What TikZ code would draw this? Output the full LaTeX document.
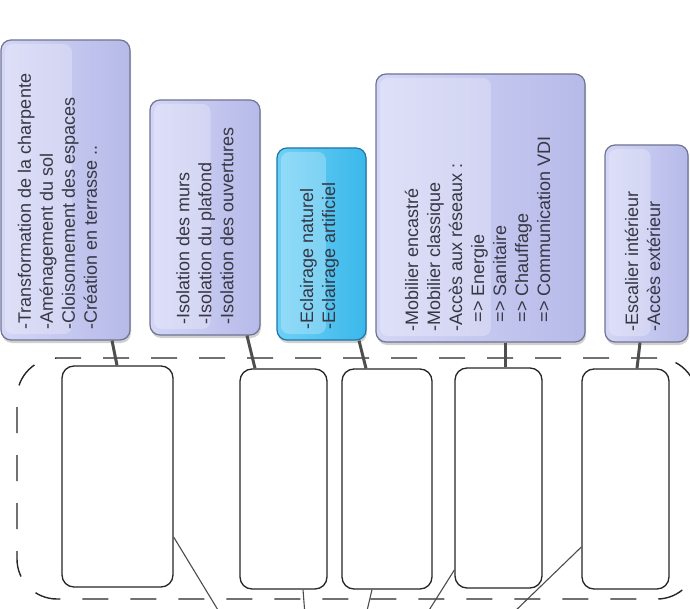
\documentclass[tikz,border=0pt]{standalone}
\usepackage{fontspec}
\setmainfont{Liberation Sans}
\usetikzlibrary{calc,shadows}
\definecolor{lavtop}{RGB}{212,214,246}
\definecolor{lavbot}{RGB}{182,186,232}
\definecolor{lavborder}{RGB}{112,116,146}
\definecolor{cyantop}{RGB}{110,208,246}
\definecolor{cyanbot}{RGB}{58,184,234}
\definecolor{cyanborder}{RGB}{30,118,168}
\definecolor{txtcol}{RGB}{55,55,68}
\definecolor{linkcol}{RGB}{78,78,78}
\begin{document}
\begin{tikzpicture}[x=1pt,y=-1pt,
  gloss/.style={path picture={\fill[white,opacity=0.25,rounded corners=8pt]
      ($(path picture bounding box.north west)+(4pt,-4pt)$) rectangle
      ($(path picture bounding box.south west)!0.55!(path picture bounding box.south east)+(0pt,6pt)$);}},
  topbox/.style={draw=lavborder, line width=1.2pt, rounded corners=10pt,
      left color=lavtop, right color=lavbot, inner sep=0pt, gloss,
      drop shadow={shadow xshift=1pt, shadow yshift=-3pt, opacity=0.3, fill=black!60}},
  cyanbox/.style={topbox, draw=cyanborder, left color=cyantop, right color=cyanbot},
  txt/.style={font=\fontsize{18}{22}\selectfont, text=txtcol, align=left,
      inner sep=0pt, rotate=90, anchor=west},
  lowbox/.style={draw=black!85, line width=1.3pt, rounded corners=12pt, fill=white, inner sep=0pt},
  dashframe/.style={draw=black!85, line width=1.4pt, rounded corners=40pt,
      dash pattern=on 26pt off 22pt, inner sep=0pt},
  thicklink/.style={draw=linkcol, line width=3pt},
  thinlink/.style={draw=black!70, line width=1.1pt}]
\path[use as bounding box, clip] (0,0) rectangle (690,609);
\fill[white] (0,0) rectangle (690,609);

% dashed frame
\node[dashframe, minimum width=680pt, minimum height=241pt] (frame) at (357,478.5) {};

% top boxes
\node[topbox, minimum width=129pt, minimum height=300pt] (t1) at (65.5,190) {};
\node[topbox, minimum width=110pt, minimum height=235pt] (t2) at (205,217.5) {};
\node[cyanbox, minimum width=89pt, minimum height=192pt] (t3) at (321.5,244) {};
\node[topbox, minimum width=209pt, minimum height=268pt] (t4) at (480.5,208) {};
\node[topbox, minimum width=83pt, minimum height=197pt] (t5) at (646.5,243.5) {};

\node[txt] (x1) at ([xshift=-8pt,yshift=11pt]t1.south) {-Transformation de la charpente\\-Aménagement du sol\\-Cloisonnement des espaces\\-Création en terrasse ..};
\node[txt] (x2) at ([yshift=11pt]t2.south) {-Isolation des murs\\-Isolation du plafond\\-Isolation des ouvertures};
\node[txt] (x3) at ([xshift=-2pt,yshift=11pt]t3.south) {-Eclairage naturel\\-Eclairage artificiel};
\node[txt] (x4) at ([xshift=-3pt,yshift=11pt]t4.south) {-Mobilier encastré\\-Mobilier classique\\-Accès aux réseaux :\\\hspace*{9pt}=> Energie\\\hspace*{9pt}=> Sanitaire\\\hspace*{9pt}=> Chauffage\\\hspace*{9pt}=> Communication VDI};
\node[txt] (x5) at ([xshift=-4pt,yshift=11pt]t5.south) {-Escalier intérieur\\-Accès extérieur};

% lower boxes
\node[lowbox, minimum width=111pt, minimum height=221pt] (A) at (117.5,476.5) {};
\node[lowbox, minimum width=87pt, minimum height=220pt] (B) at (283.5,479) {};
\node[lowbox, minimum width=90pt, minimum height=220pt] (C) at (387,479) {};
\node[lowbox, minimum width=87pt, minimum height=220pt] (D) at (498.5,478) {};
\node[lowbox, minimum width=87pt, minimum height=220pt] (E) at (625.5,479) {};

% links top -> bottom
\draw[thicklink] ([xshift=46.5pt]t1.south) -- ([xshift=-0.5pt]A.north);
\draw[thicklink] ([xshift=42pt]t2.south) -- ([xshift=-28.5pt]B.north);
\draw[thicklink] ([xshift=37.5pt]t3.south) -- ([xshift=-21pt]C.north);
\draw[thicklink] ([xshift=24.5pt]t4.south) -- ([xshift=6.5pt]D.north);
\draw[thicklink] ([xshift=-6.5pt]t5.south) -- ([xshift=11.5pt]E.north);

% lines leaving the bottom
\coordinate (a1) at (221,615);
\coordinate (b1) at (305,615);
\coordinate (c1) at (366,615);
\coordinate (d1) at (426,615);
\coordinate (e1) at (511,615);
\draw[thinlink] ([yshift=-60.5pt]A.east) -- (a1);
\draw[thinlink] ([xshift=19.5pt]B.south) -- (b1);
\draw[thinlink] ([xshift=-15pt]C.south) -- (c1);
\draw[thinlink] ([yshift=-92pt]D.west) -- (d1);
\draw[thinlink] ([yshift=-68pt]E.west) -- (e1);
\end{tikzpicture}
\end{document}
